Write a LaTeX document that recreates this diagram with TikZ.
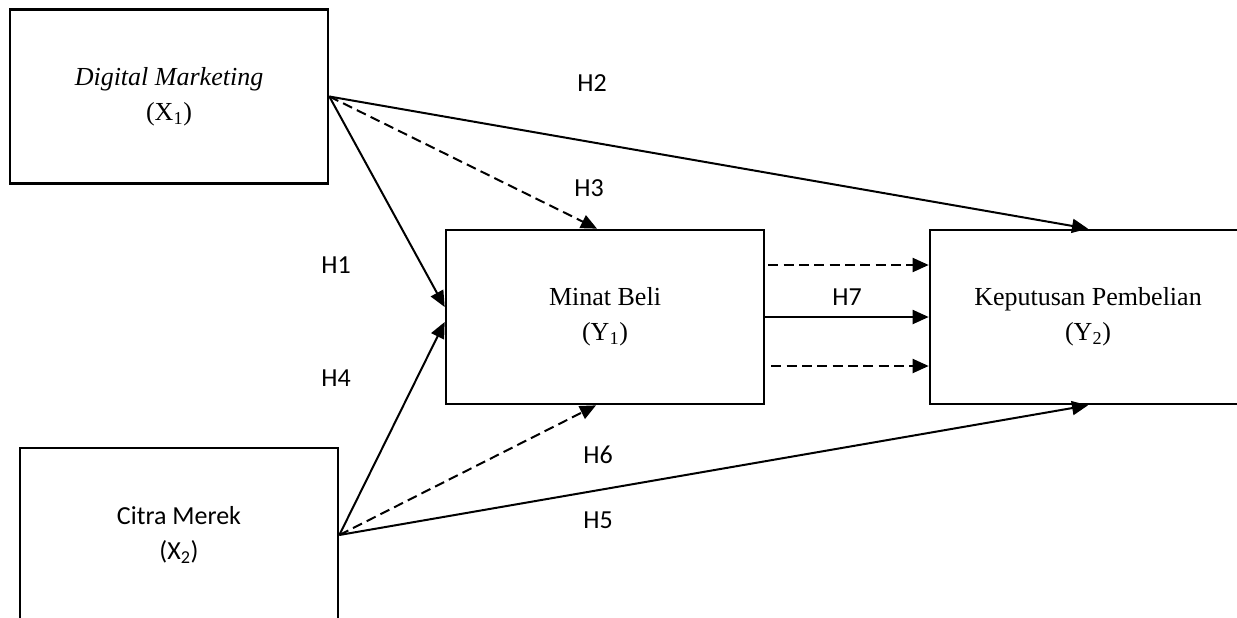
\documentclass[tikz,border=0pt]{standalone}
\usepackage{fontspec}
\setmainfont{Liberation Serif}
\newfontfamily\labelfont{Carlito}
\usetikzlibrary{arrows.meta,calc}
\begin{document}
\begin{tikzpicture}[x=0.75pt,y=-0.75pt,
  box/.style={draw,line width=2pt,minimum width=238.5pt,minimum height=130.5pt,
    align=center,inner sep=0pt,font=\fontsize{19.5}{26}\selectfont},
  arr/.style={line width=1.5pt,-{Triangle[length=12pt,width=10.5pt]}},
  dsh/.style={arr,dash pattern=on 7.5pt off 4pt},
  hyp/.style={font=\labelfont\fontsize{19.5}{24}\selectfont,inner sep=0pt}]
\useasboundingbox (0,0) rectangle (1237,617);
\clip (0,0) rectangle (1237,617);

% variables
\node[box] (dm) at (169,96.5) {{\itshape Digital Marketing}\\(X\textsubscript{1})};
\node[box,font=\labelfont\fontsize{19.5}{26}\selectfont] (cm) at (179,535) {Citra Merek\\(X\textsubscript{2})};
\node[box] (mb) at (605,317) {Minat Beli\\(Y\textsubscript{1})};
\node[box,minimum width=237pt] (kp) at (1088,317) {Keputusan Pembelian\\(Y\textsubscript{2})};

% anchor points on the mediator and the outcome
\coordinate (mbTop) at ($(mb.north)+(-8,0)$);
\coordinate (mbBot) at ($(mb.south)+(-9,0)$);
\coordinate (mbW1) at ($(mb.west)+(0,-10)$);
\coordinate (mbW2) at ($(mb.west)+(0,5)$);
\coordinate (s1) at ($(mb.east)+(3,-52)$);
\coordinate (e1) at ($(kp.west)+(0,-52)$);
\coordinate (s3) at ($(mb.east)+(6,49)$);
\coordinate (e3) at ($(kp.west)+(0,49)$);

% paths
\draw[arr] (dm.east) -- (kp.north);
\draw[dsh] (dm.east) -- (mbTop);
\draw[arr] (dm.east) -- (mbW1);
\draw[arr] (cm.east) -- (mbW2);
\draw[dsh] (cm.east) -- (mbBot);
\draw[arr] (cm.east) -- (kp.south);
\draw[dsh] (s1) -- (e1);
\draw[arr] (mb.east) -- (kp.west);
\draw[dsh] (s3) -- (e3);

% hypothesis labels
\node[hyp] (h2) at (592,83) {H2};
\node[hyp] (h3) at (589,188) {H3};
\node[hyp] (h1) at (336,265) {H1};
\node[hyp] (h4) at (336,378) {H4};
\node[hyp] (h6) at (598,455) {H6};
\node[hyp] (h5) at (598,520) {H5};
\node[hyp] (h7) at (847,297) {H7};
\end{tikzpicture}
\end{document}
